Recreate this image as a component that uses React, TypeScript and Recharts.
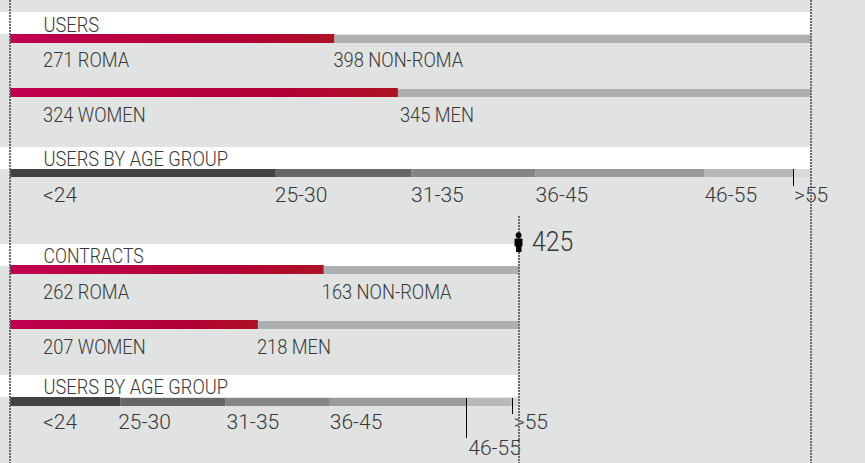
import { useId } from "react";
import { Bar, BarChart, XAxis, YAxis } from "recharts";

const usersOriginLabels = ["271 ROMA", "398 NON-ROMA"];
const usersOriginValues = [271, 398];
const usersGenderLabels = ["324 WOMEN", "345 MEN"];
const usersGenderValues = [324, 345];
const ageGroups = ["<24", "25-30", "31-35", "36-45", "46-55", ">55"];
const usersAgeValues = [222, 113, 104, 141, 74, 15];

const contractsOriginLabels = ["262 ROMA", "163 NON-ROMA"];
const contractsOriginValues = [262, 163];
const contractsGenderLabels = ["207 WOMEN", "218 MEN"];
const contractsGenderValues = [207, 218];
const contractsAgeValues = [92, 88, 87, 114, 38, 6];

const USERS_TOTAL = 669;
const CONTRACTS_TOTAL = 425;

const GREY = "#aeafb1";
const AGE_COLORS = ["#424244", "#666668", "#858587", "#9a9a9c", "#b7b8ba", "#d8d9db"];
const TEXT = "#38383a";
const FONT = "Roboto, sans-serif";
const SQUEEZE = 0.87;

type LabelTweak = { dx?: number; dy?: number; leader?: number };

type RowProps = {
  top: number;
  name: string;
  total: number;
  values: number[];
  labels: string[];
  colors: string[];
  rightEdge: number;
  raised?: boolean;
  gap?: number;
  squeeze?: number;
  tweaks?: Record<number, LabelTweak>;
};

type SqueezedProps = { x: number; y: number; size?: number; squeeze?: number; children: string };

const Squeezed = ({ x, y, size = 21, squeeze = SQUEEZE, children }: SqueezedProps) => (
  <text
    transform={`translate(${x} ${y}) scale(${squeeze} 1)`}
    fontFamily={FONT}
    fontWeight={300}
    fontSize={size}
    fill={TEXT}
  >
    {children}
  </text>
);

// one stacked bar, with its labels hanging below each segment
const Row = ({ top, name, total, values, labels, colors, rightEdge, raised, gap = 33, squeeze, tweaks = {} }: RowProps) => {
  const id = useId();
  const row: Record<string, string | number> = { name };
  values.forEach((v, i) => (row[`s${i}`] = v));

  return (
    <div style={{ position: "absolute", left: 0, top: top - 1 }}>
      <BarChart
        width={865}
        height={70}
        data={[row]}
        layout="vertical"
        barCategoryGap={0}
        margin={{ top: 1, right: 865 - rightEdge, bottom: 61, left: 10 }}
      >
        <defs>
          <linearGradient id={id} x1="0" y1="0" x2="1" y2="0">
            <stop offset="0%" stopColor="#c0004f" />
            <stop offset="70%" stopColor="#b20036" />
            <stop offset="100%" stopColor="#ae1225" />
          </linearGradient>
        </defs>
        <XAxis type="number" hide domain={[0, total]} />
        <YAxis type="category" dataKey="name" hide />
        {values.map((_, i) => (
          <Bar
            key={i}
            dataKey={`s${i}`}
            stackId="a"
            isAnimationActive={false}
            shape={(p: any) => {
              const lifted = raised && i === 0;
              const fill = colors[i] === "red" ? `url(#${id})` : colors[i];
              return (
                <rect
                  x={p.x}
                  y={lifted ? p.y - 1 : p.y}
                  width={p.width}
                  height={lifted ? p.height + 1 : p.height}
                  fill={fill}
                />
              );
            }}
            label={(p: any) => {
              const t = tweaks[i] ?? {};
              const lineX = Math.round(p.x) + 0.5;
              return (
                <g>
                  {t.leader ? (
                    <line x1={lineX} x2={lineX} y1={p.y} y2={p.y + t.leader} stroke="#000" strokeWidth={1} />
                  ) : null}
                  <Squeezed x={p.x + (t.dx ?? 0)} y={p.y + gap + (t.dy ?? 0)} squeeze={squeeze}>
                    {labels[i]}
                  </Squeezed>
                </g>
              );
            }}
          />
        ))}
      </BarChart>
    </div>
  );
};

const band = (top: number, width: number) => (
  <div style={{ position: "absolute", left: 0, top, width, height: 22, background: "#fff" }} />
);

const dotted = (left: number, top: number) => (
  <div
    style={{
      position: "absolute",
      left,
      top,
      bottom: 0,
      width: 2,
      background: "repeating-linear-gradient(#6a6a6a 0 2px, transparent 2px 3px)",
    }}
  />
);

export default function App() {
  return (
    <div
      style={{
        position: "absolute",
        left: 0,
        top: 0,
        width: 865,
        height: 463,
        overflow: "hidden",
        background: "#e1e3e2",
      }}
    >
      {band(12, 811)}
      {band(147, 811)}
      {band(244, 519)}
      {band(375, 519)}

      <Row top={35} name="origin" total={USERS_TOTAL} values={usersOriginValues} labels={usersOriginLabels}
        colors={["red", GREY]} rightEdge={811} raised gap={32} tweaks={{ 0: { dx: 33 }, 1: { dx: -1 } }} />
      <Row top={89} name="gender" total={USERS_TOTAL} values={usersGenderValues} labels={usersGenderLabels}
        colors={["red", GREY]} rightEdge={811} raised tweaks={{ 0: { dx: 33 }, 1: { dx: 2 } }} />
      <Row top={169} name="age" total={USERS_TOTAL} values={usersAgeValues} labels={ageGroups}
        colors={AGE_COLORS} rightEdge={811} squeeze={1} tweaks={{ 0: { dx: 33 }, 1: { dx: -1 }, 5: { dx: 1, leader: 17 } }} />

      <Row top={266} name="origin" total={CONTRACTS_TOTAL} values={contractsOriginValues} labels={contractsOriginLabels}
        colors={["red", GREY]} rightEdge={519} raised tweaks={{ 0: { dx: 33 }, 1: { dx: -2 } }} />
      <Row top={321} name="gender" total={CONTRACTS_TOTAL} values={contractsGenderValues} labels={contractsGenderLabels}
        colors={["red", GREY]} rightEdge={519} raised tweaks={{ 0: { dx: 33 }, 1: { dx: -1 } }} />
      <Row top={398} name="age" total={CONTRACTS_TOTAL} values={contractsAgeValues} labels={ageGroups}
        colors={AGE_COLORS} rightEdge={519} raised gap={31} squeeze={1}
        tweaks={{ 0: { dx: 33 }, 1: { dx: -2 }, 2: { dx: 1 }, 4: { dx: 2, dy: 26, leader: 40 }, 5: { dx: 2, leader: 16 } }} />

      {dotted(9, 0)}
      {dotted(810, 0)}
      {dotted(518, 216)}

      <svg width={865} height={463} style={{ position: "absolute", left: 0, top: 0 }}>
        <Squeezed x={43.5} y={31.5}>USERS</Squeezed>
        <Squeezed x={43.5} y={165.5}>USERS BY AGE GROUP</Squeezed>
        <Squeezed x={43.5} y={262.5} squeeze={0.84}>CONTRACTS</Squeezed>
        <Squeezed x={43.5} y={393.5}>USERS BY AGE GROUP</Squeezed>
        <Squeezed x={532} y={251} size={27} squeeze={0.92}>425</Squeezed>
        <circle cx={518.6} cy={235.2} r={2.9} fill="#000" />
        <rect x={514.5} y={238.5} width={8} height={8} rx={1} fill="#000" />
        <rect x={516} y={246} width={5.5} height={6} fill="#000" />
      </svg>
    </div>
  );
}
